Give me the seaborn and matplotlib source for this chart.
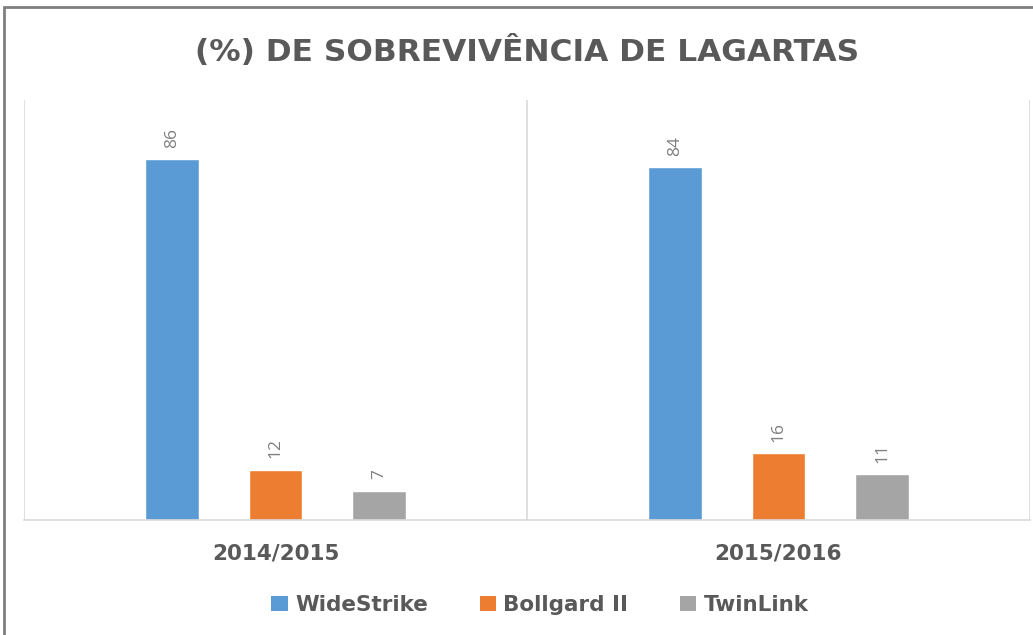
import matplotlib
matplotlib.use("Agg")
import matplotlib.pyplot as plt
import seaborn as sns
import pandas as pd
from matplotlib.patches import Rectangle, Patch

seasons = ["2014/2015", "2015/2016"]
varieties = ["WideStrike", "Bollgard II", "TwinLink"]
widestrike = [86, 84]
bollgard = [12, 16]
twinlink = [7, 11]
colors = ["#5B9BD5", "#ED7D31", "#A5A5A5"]

rows = []
for s_i, s in enumerate(seasons):
    for v, vals in zip(varieties, [widestrike, bollgard, twinlink]):
        rows.append({"season": s, "variety": v, "value": vals[s_i]})
df = pd.DataFrame(rows)

sns.set_theme(style="white")
plt.rcParams['font.family'] = ['Open Sans', 'DejaVu Sans']
BOLD = ['DejaVu Sans']

fig = plt.figure(figsize=(10.33, 6.35), dpi=100)
ax = fig.add_axes([24/1033, 1-520/635, (1030-24)/1033, 420/635])

sns.barplot(data=df, x="season", y="value", hue="variety", palette=colors,
            width=0.618, gap=0.48, ax=ax, legend=False, saturation=1)

for cont in ax.containers:
    ax.bar_label(cont, labels=[f"{int(v)}" for v in cont.datavalues],
                 rotation=90, padding=8, fontsize=12.5, color="#7F7F7F")

ax.set_ylim(0, 100)
ax.set_xlim(-0.5, 1.5)
ax.set_yticks([])
ax.set_xlabel("")
ax.set_ylabel("")
for sp in ["top", "right", "left"]:
    ax.spines[sp].set_visible(False)
ax.spines["bottom"].set_color("#D9D9D9")
ax.spines["bottom"].set_linewidth(1.2)
for xv in [-0.5, 0.5, 1.5]:
    ax.axvline(xv, color="#D9D9D9", lw=1.2, zorder=0)
ax.tick_params(axis="x", length=0, pad=17)
for lbl in ax.get_xticklabels():
    lbl.set_fontsize(15.5)
    lbl.set_fontweight("bold")
    lbl.set_family(BOLD)
    lbl.set_color("#595959")

fig.text(527/1033, 1-51/635, "(%) DE SOBREVIVÊNCIA DE LAGARTAS",
         ha="center", va="center", fontsize=22.5, fontweight="bold",
         family=BOLD, color="#595959")

handles = [Patch(facecolor=c, edgecolor="none", label=v) for c, v in zip(colors, varieties)]
leg = fig.legend(handles=handles, loc="center", bbox_to_anchor=(540/1033, 1-605/635),
                 ncol=3, frameon=False, handlelength=0.75, handleheight=0.75,
                 handletextpad=0.35, columnspacing=2.4,
                 prop={"size": 15.5, "weight": "bold", "family": BOLD})
for t in leg.get_texts():
    t.set_color("#595959")

fig.patches.append(Rectangle((4/1033, -0.1), 1.2, 1 - 7/635 + 0.1,
                             transform=fig.transFigure, fill=False,
                             edgecolor="#7F7F7F", lw=2, figure=fig))

fig.savefig("out.png", dpi=100)
